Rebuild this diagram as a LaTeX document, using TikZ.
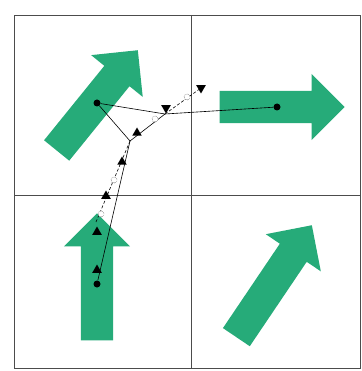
\documentclass[tikz,border=0pt]{standalone}
\usepackage{tikz}
\usetikzlibrary{shapes.arrows,shapes.geometric}
\definecolor{vert}{RGB}{38,171,121}

\begin{document}
\begin{tikzpicture}[x=1pt,y=-1pt,fleche/.style={single arrow,fill=vert,draw=none,inner xsep=0pt,inner ysep=16pt,minimum width=66pt,single arrow head extend=17pt,anchor=tip},cadre/.style={draw=black!70,line width=0.8pt},trace/.style={line width=0.6pt},pointe/.style={regular polygon,regular polygon sides=3,fill=black,inner sep=0pt,minimum size=11pt},vide/.style={circle,draw,densely dotted,fill=white,inner sep=0pt,minimum size=6pt},pt/.style={circle,fill=black,inner sep=0pt,minimum size=7pt}]
\useasboundingbox (0,0) rectangle (361,371);
\draw[cadre] (14,15) rectangle (360.5,368);
\draw[cadre] (191,15)--(191,368);
\draw[cadre] (14,195)--(360.5,195);
% fleches vertes
\node[fleche,rotate=51,minimum height=129pt] (flecheA) at (138,50) {};
\node[fleche,minimum height=125pt] (flecheB) at (345,107) {};
\node[fleche,rotate=90,minimum height=127pt] (flecheC) at (97,213) {};
\node[fleche,rotate=56,minimum height=135pt] (flecheD) at (312,225) {};
% points
\node[pt] (ptA) at (97,103) {};
\node[pt] (ptB) at (277,107) {};
\node[pt] (ptC) at (97,284) {};
\coordinate (j1) at (165,114);
\coordinate (j2) at (130,141);
\coordinate (j3) at (201,88);
\coordinate (j4) at (96,222);
% trajectoires
\draw[trace] (ptA)--(j1)--(ptB);
\draw[trace] (ptA)--(j2);
\draw[trace] (j2)--(j1);
\draw[trace] (j2)--(ptC);
\draw[trace,densely dashed] (j2)--(j4);
\draw[trace,densely dashed] (j1)--(j3);
% marqueurs
\node[vide] (vA) at (187,97) {};
\node[vide] (vB) at (155,119) {};
\node[vide] (vC) at (114,180) {};
\node[vide] (vD) at (101,214) {};
\node[pointe,rotate=180] (mA) at (201,88) {};
\node[pointe,rotate=180] (mB) at (166,108) {};
\node[pointe] (mC) at (137,133) {};
\node[pointe] (mD) at (122,162) {};
\node[pointe] (mE) at (106,196) {};
\node[pointe] (mF) at (97,232) {};
\node[pointe] (mG) at (97,270) {};
\end{tikzpicture}
\end{document}
